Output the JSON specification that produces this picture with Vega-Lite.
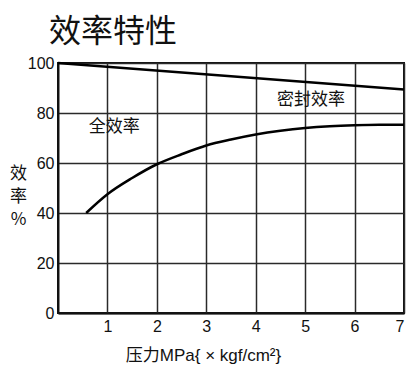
{
  "$schema": "https://vega.github.io/schema/vega-lite/v6.json",
  "width": 346,
  "height": 250,
  "autosize": "none",
  "padding": {"left": 58, "top": 63, "right": 16, "bottom": 54},
  "background": "white",
  "title": {
    "text": "效率特性",
    "anchor": "start",
    "frame": "group",
    "dx": -9,
    "offset": 6,
    "fontSize": 32,
    "fontWeight": "normal",
    "font": "Noto Sans CJK SC",
    "color": "#111"
  },
  "config": {
    "view": {"stroke": "#111", "strokeWidth": 2},
    "axis": {
      "labelFont": "Liberation Sans",
      "labelFontSize": 16,
      "labelColor": "#111",
      "titleFont": "Liberation Sans, Noto Sans CJK SC",
      "titleFontSize": 17,
      "titleFontWeight": "normal",
      "titleColor": "#111",
      "domainColor": "#111",
      "domainWidth": 2,
      "ticks": false,
      "grid": true,
      "gridColor": "#2a2a2a",
      "gridWidth": 1.5,
      "gridOpacity": 1
    }
  },
  "datasets": {
    "curves": [
      {"series": "seal", "p": 0, "eff": 100},
      {"series": "seal", "p": 7, "eff": 89.4},
      {"series": "total", "p": 0.57, "eff": 40},
      {"series": "total", "p": 1, "eff": 47.5},
      {"series": "total", "p": 1.5, "eff": 54},
      {"series": "total", "p": 2, "eff": 59.5},
      {"series": "total", "p": 2.5, "eff": 63.5},
      {"series": "total", "p": 3, "eff": 67},
      {"series": "total", "p": 3.5, "eff": 69.4},
      {"series": "total", "p": 4, "eff": 71.4},
      {"series": "total", "p": 4.5, "eff": 72.9},
      {"series": "total", "p": 5, "eff": 74},
      {"series": "total", "p": 5.5, "eff": 74.7},
      {"series": "total", "p": 6, "eff": 75.1},
      {"series": "total", "p": 6.5, "eff": 75.3},
      {"series": "total", "p": 7, "eff": 75.3}
    ],
    "labels": [
      {"text": "全效率", "p": 1.14, "eff": 74.5},
      {"text": "密封效率", "p": 5.12, "eff": 85.2}
    ]
  },
  "layer": [
    {
      "data": {"name": "curves"},
      "mark": {"type": "line", "color": "#000", "strokeWidth": 2.5, "interpolate": "monotone"},
      "encoding": {
        "x": {
          "field": "p",
          "type": "quantitative",
          "scale": {"domain": [0, 7], "nice": false},
          "axis": {
            "values": [1, 2, 3, 4, 5, 6, 7],
            "labelPadding": 5,
            "title": "压力MPa{ × kgf/cm²}",
            "titleX": 145,
            "titleY": 42,
            "titleBaseline": "middle",
            "titleAlign": "center"
          }
        },
        "y": {
          "field": "eff",
          "type": "quantitative",
          "scale": {"domain": [0, 100], "nice": false},
          "axis": {
            "values": [0, 20, 40, 60, 80, 100],
            "labelPadding": 4,
            "title": ["效", "率", "%"],
            "titleFont": "Noto Sans CJK SC",
            "titleAngle": 0,
            "titleX": -40,
            "titleY": 102,
            "titleBaseline": "top",
            "titleAlign": "center",
            "titleLineHeight": 23,
            "titleFontSize": 17
          }
        },
        "detail": {"field": "series"}
      }
    },
    {
      "data": {"name": "labels"},
      "mark": {"type": "text", "font": "Noto Sans CJK SC", "fontSize": 17, "color": "#111", "align": "center", "baseline": "middle"},
      "encoding": {
        "x": {"field": "p", "type": "quantitative"},
        "y": {"field": "eff", "type": "quantitative"},
        "text": {"field": "text"}
      }
    }
  ]
}
